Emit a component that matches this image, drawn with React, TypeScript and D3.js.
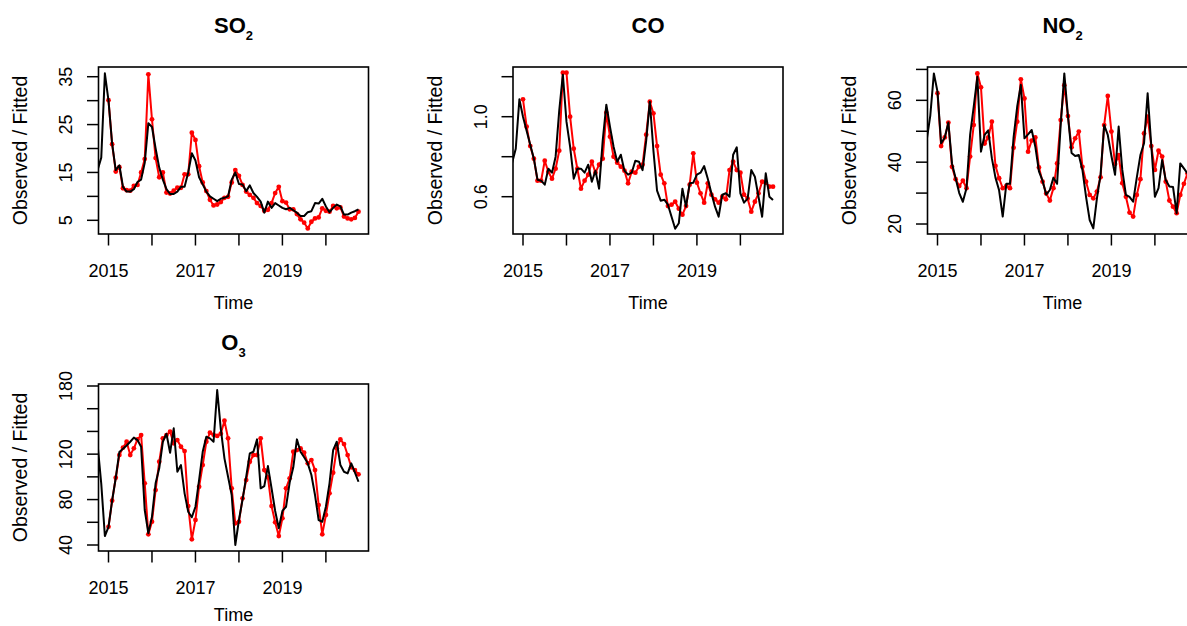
import React from "react";
import * as d3 from "d3";

// ---------- data (monthly) ----------
// observed series: Jan 2015 .. Oct 2020 ; fitted series: Oct 2014 .. Oct 2020
const obsStart = 2015;
const fitStart = 2015 - 3 / 12;

const so2Observed = [
  30.1, 20.9, 15.2, 16.1, 11.7, 11.3, 11.2, 12.2, 12.4, 15.0, 17.8, 35.5,
  26.1, 18.0, 14.0, 15.0, 10.8, 10.6, 11.2, 11.8, 11.8, 14.6, 14.6, 23.3,
  21.8, 16.3, 12.9, 11.1, 9.3, 8.1, 8.3, 8.8, 9.7, 9.9, 12.9, 15.5,
  14.3, 12.4, 11.0, 10.3, 9.7, 8.6, 8.0, 7.0, 7.2, 8.6, 10.7, 12.0,
  9.0, 8.7, 7.3, 7.3, 6.3, 5.2, 4.5, 3.3, 4.7, 5.4, 5.6, 7.5,
  7.0, 6.8, 8.0, 7.5, 7.7, 5.8, 5.4, 5.2, 5.5, 6.8,
];
const so2Fitted = [
  15.5, 18.1, 35.7,
  30, 21, 15.5, 16.5, 12, 11, 11, 11.5, 13, 13.5, 17, 25.3,
  24.5, 20, 16, 13.5, 11.5, 10.5, 10.5, 11, 12, 12, 15, 19,
  17.5, 14, 12.5, 11, 10, 9.5, 9, 9.5, 9.7, 10, 13.5, 15,
  12.6, 12.5, 11.1, 12.3, 10.7, 9.9, 8.9, 6.6, 8.9, 7.6, 8.6, 8.1,
  7.6, 7.3, 7.6, 7.1, 6.6, 5.9, 5.9, 6.7, 6.9, 8.6, 8.5, 9.5,
  7.9, 6.7, 7.6, 8.3, 7.9, 6.2, 6.2, 6.6, 6.9, 7.3,
];

const coObserved = [
  1.087, 0.95, 0.853, 0.79, 0.68, 0.68, 0.78, 0.725, 0.69, 0.74, 0.83, 1.22,
  1.22, 1.0, 0.84, 0.74, 0.64, 0.68, 0.71, 0.775, 0.72, 0.76, 0.79, 1.02,
  0.9, 0.8, 0.77, 0.75, 0.73, 0.667, 0.725, 0.72, 0.75, 0.76, 0.91, 1.075,
  1.017, 0.853, 0.71, 0.667, 0.553, 0.56, 0.575, 0.54, 0.51, 0.553, 0.66, 0.817,
  0.67, 0.617, 0.57, 0.667, 0.61, 0.587, 0.57, 0.6, 0.587, 0.733, 0.775, 0.733,
  0.72, 0.61, 0.59, 0.525, 0.575, 0.617, 0.675, 0.67, 0.65, 0.65,
];
const coFitted = [
  0.77, 0.84, 1.087,
  1.0, 0.93, 0.86, 0.79, 0.685, 0.68, 0.66, 0.74, 0.72, 0.8, 1.03, 1.21,
  0.975, 0.85, 0.69, 0.74, 0.74, 0.72, 0.76, 0.675, 0.73, 0.64, 0.88, 1.06,
  0.95, 0.85, 0.775, 0.81, 0.73, 0.71, 0.72, 0.78, 0.775, 0.733, 0.88, 1.075,
  0.83, 0.63, 0.58, 0.585, 0.56, 0.5, 0.44, 0.467, 0.64, 0.55, 0.667, 0.67,
  0.71, 0.72, 0.753, 0.69, 0.617, 0.55, 0.5, 0.61, 0.617, 0.6, 0.81, 0.847,
  0.617, 0.57, 0.59, 0.733, 0.7, 0.6, 0.5, 0.717, 0.6, 0.583,
];

const no2Observed = [
  62.3, 45.2, 48, 52.8, 38.5, 34.5, 32.3, 34, 31.6, 41.8, 52, 68.7,
  64.2, 46, 48, 53.1, 38.8, 34.8, 31.6, 32.3, 31.6, 44.7, 53.1, 66.8,
  60.6, 43.4, 47, 48, 38.3, 33.7, 29.9, 27.6, 31.6, 39.6, 53.6, 64.9,
  54.9, 44.8, 47.7, 49.9, 38.5, 33.7, 29.4, 28.3, 30.5, 35.1, 52, 61.4,
  49.9, 39.4, 42.3, 33.2, 28.8, 23.7, 22.4, 29.4, 34.5, 49.3, 54.7, 45.2,
  37.5, 43.7, 41.8, 33.7, 27.6, 25.6, 23.5, 29.4, 33, 36.4,
];
const no2Fitted = [
  47, 55, 68.7,
  62.8, 46.1, 47.9, 52.8, 39.6, 34.8, 30, 27.2, 31.6, 48.8, 58, 67.6,
  43.4, 48.8, 50.3, 41.3, 35, 30.9, 22.4, 33, 33, 48, 58, 65,
  47.7, 49, 50.4, 45, 37, 34, 29.5, 31, 35, 33, 52, 68.7,
  55, 43, 42, 42.3, 37.5, 28.8, 21.3, 18.6, 28.3, 35.9, 52, 48.8,
  42, 35.9, 51.5, 37.5, 29.4, 28.8, 27.2, 35, 42.3, 46.1, 62.3, 45.5,
  28.8, 31.6, 40.7, 34.2, 32.1, 32, 23.5, 39.6, 38, 36.4,
];

const o3Observed = [
  56, 79, 99.2, 119.2, 125.7, 130.9, 119.2, 125.1, 133, 136.8, 94.3, 49.4,
  60.5, 88.4, 113.3, 133.9, 136.8, 139.7, 129.5, 132.4, 126.5, 122.7, 74.3, 45,
  62, 91.3, 110.4, 130.9, 138.9, 137, 136, 138, 149.4, 133.9, 89.9, 59.1,
  60.5, 81.1, 97.2, 113.3, 119.2, 119.2, 133.9, 106, 99.6, 74.3, 60, 47.9,
  63.5, 89.9, 98.7, 122.1, 123.6, 125.1, 121.3, 111.9, 114.8, 106, 75.2, 49.4,
  66.4, 85.5, 103.6, 125.1, 133, 128.9, 119.2, 108.4, 106, 102.2,
];
const o3Fitted = [
  128, 94, 47.9,
  56, 79, 99, 121.9, 124.7, 127.6, 130.9, 134.6, 132.4, 126.5, 70.8, 50.3,
  65, 94.3, 107.5, 130.9, 138, 121.2, 142.7, 104.5, 110.4, 85.5, 69.3, 64.4,
  73.7, 97.2, 122.1, 135.3, 133.9, 130.9, 176.4, 142, 116.3, 100.1, 84, 40,
  62, 80, 100, 120.7, 122.1, 133, 89.9, 91.9, 109.5, 90, 70, 54.7,
  70, 73.7, 95, 108.4, 133, 122.1, 117.2, 111.9, 101.6, 84, 62, 60.5,
  73.7, 94.3, 123.6, 130.9, 110.4, 104.5, 103.1, 111.9, 104, 95.7,
];

// axis ticks / labels
const xTicks = [2015, 2016, 2017, 2018, 2019, 2020];
const xTickLabels = [2015, 2017, 2019];

const so2YTicks = [5, 10, 15, 20, 25, 30, 35];
const so2YLabels = [5, 15, 25, 35];
const so2YLim = [2.14, 37.03];

const coYTicks = [0.6, 0.8, 1.0, 1.2];
const coYLabels = [0.6, 1.0];
const coYLim = [0.4135, 1.2485];

const no2YTicks = [20, 30, 40, 50, 60, 70];
const no2YLabels = [20, 40, 60];
const no2YLim = [16.77, 70.78];

const o3YTicks = [40, 60, 80, 100, 120, 140, 160, 180];
const o3YLabels = [40, 80, 120, 180];
const o3YLim = [34.72, 181.76];

const xLabel = "Time";
const yLabel = "Observed / Fitted";

// ---------- layout ----------
const W = 1187;
const H = 626;
const BOX_W = 270;
const BOX_H = 167;
const FONT = "'Liberation Sans', Arial, Helvetica, sans-serif";

type PanelProps = {
  id: string;
  left: number;
  top: number;
  title: string;
  sub: string;
  observed: number[];
  fitted: number[];
  yLim: number[];
  yTicks: number[];
  yLabels: number[];
  fmt: (v: number) => string;
};

function Panel(p: PanelProps) {
  const { left, top } = p;
  const right = left + BOX_W;
  const bottom = top + BOX_H;
  const t0 = obsStart;
  const t1 = obsStart + (p.observed.length - 1) / 12;
  const pad = 0.04 * (t1 - t0);
  const x = d3.scaleLinear().domain([t0 - pad, t1 + pad]).range([left, right]);
  const y = d3.scaleLinear().domain(p.yLim).range([bottom, top]);
  const line = d3
    .line<[number, number]>()
    .x((d) => x(d[0]))
    .y((d) => y(d[1]));
  const obsPts: [number, number][] = p.observed.map((v, i) => [t0 + i / 12, v]);
  const fitPts: [number, number][] = p.fitted.map((v, i) => [fitStart + i / 12, v]);
  const cx = (left + right) / 2;
  const tick = 11.5;
  return (
    <g>
      <defs>
        <clipPath id={"clip-" + p.id}>
          <rect x={left} y={top} width={BOX_W} height={BOX_H} />
        </clipPath>
      </defs>
      {/* title */}
      <text
        x={cx}
        y={top - 33.7}
        textAnchor="middle"
        fontFamily={FONT}
        fontWeight="bold"
        fontSize={22}
        fill="#000"
      >
        {p.title}
        {p.sub ? (
          <tspan fontSize={13} dy={6.5}>
            {p.sub}
          </tspan>
        ) : null}
      </text>
      {/* series */}
      <g clipPath={`url(#clip-${p.id})`}>
        <path d={line(obsPts) || ""} fill="none" stroke="#ff0000" strokeWidth={2} strokeLinejoin="round" />
        {obsPts.map((d, i) => (
          <circle key={i} cx={x(d[0])} cy={y(d[1])} r={2.4} fill="#ff0000" />
        ))}
        <path d={line(fitPts) || ""} fill="none" stroke="#000" strokeWidth={2} strokeLinejoin="round" />
      </g>
      {/* box */}
      <rect x={left} y={top} width={BOX_W} height={BOX_H} fill="none" stroke="#000" strokeWidth={1.6} />
      {/* x axis */}
      {xTicks.map((t) => (
        <line key={"xt" + t} x1={x(t)} x2={x(t)} y1={bottom} y2={bottom + tick} stroke="#000" strokeWidth={1.5} />
      ))}
      {xTickLabels.map((t) => (
        <text
          key={"xl" + t}
          x={x(t)}
          y={bottom + 42.7}
          textAnchor="middle"
          fontFamily={FONT}
          fontSize={18}
          fill="#000"
        >
          {t}
        </text>
      ))}
      <text
        x={cx}
        y={Math.min(bottom + 75, H - 5)}
        textAnchor="middle"
        fontFamily={FONT}
        fontSize={18}
        fill="#000"
      >
        {xLabel}
      </text>
      {/* y axis */}
      {p.yTicks.map((v) => (
        <line key={"yt" + v} x1={left - tick} x2={left} y1={y(v)} y2={y(v)} stroke="#000" strokeWidth={1.5} />
      ))}
      {p.yLabels.map((v) => (
        <text
          key={"yl" + v}
          transform={`translate(${left - 26.5},${y(v)}) rotate(-90)`}
          textAnchor="middle"
          fontFamily={FONT}
          fontSize={18}
          fill="#000"
        >
          {p.fmt(v)}
        </text>
      ))}
      <text
        transform={`translate(${left - 71.5},${(top + bottom) / 2}) rotate(-90)`}
        textAnchor="middle"
        fontFamily={FONT}
        fontSize={19.5}
        fill="#000"
      >
        {yLabel}
      </text>
    </g>
  );
}

export default function App() {
  const lefts = [98.5, 513, 927.5];
  const tops = [67, 384];
  const intFmt = (v: number) => String(v);
  const decFmt = (v: number) => v.toFixed(1);
  return (
    <svg
      width={W}
      height={H}
      viewBox={`0 0 ${W} ${H}`}
      style={{ position: "absolute", left: 0, top: 0, background: "#fff" }}
    >
      <rect x={0} y={0} width={W} height={H} fill="#fff" />
      <Panel id="so2" left={lefts[0]} top={tops[0]} title="SO" sub="2" observed={so2Observed} fitted={so2Fitted}
        yLim={so2YLim} yTicks={so2YTicks} yLabels={so2YLabels} fmt={intFmt} />
      <Panel id="co" left={lefts[1]} top={tops[0]} title="CO" sub="" observed={coObserved} fitted={coFitted}
        yLim={coYLim} yTicks={coYTicks} yLabels={coYLabels} fmt={decFmt} />
      <Panel id="no2" left={lefts[2]} top={tops[0]} title="NO" sub="2" observed={no2Observed} fitted={no2Fitted}
        yLim={no2YLim} yTicks={no2YTicks} yLabels={no2YLabels} fmt={intFmt} />
      <Panel id="o3" left={lefts[0]} top={tops[1]} title="O" sub="3" observed={o3Observed} fitted={o3Fitted}
        yLim={o3YLim} yTicks={o3YTicks} yLabels={o3YLabels} fmt={intFmt} />
    </svg>
  );
}
